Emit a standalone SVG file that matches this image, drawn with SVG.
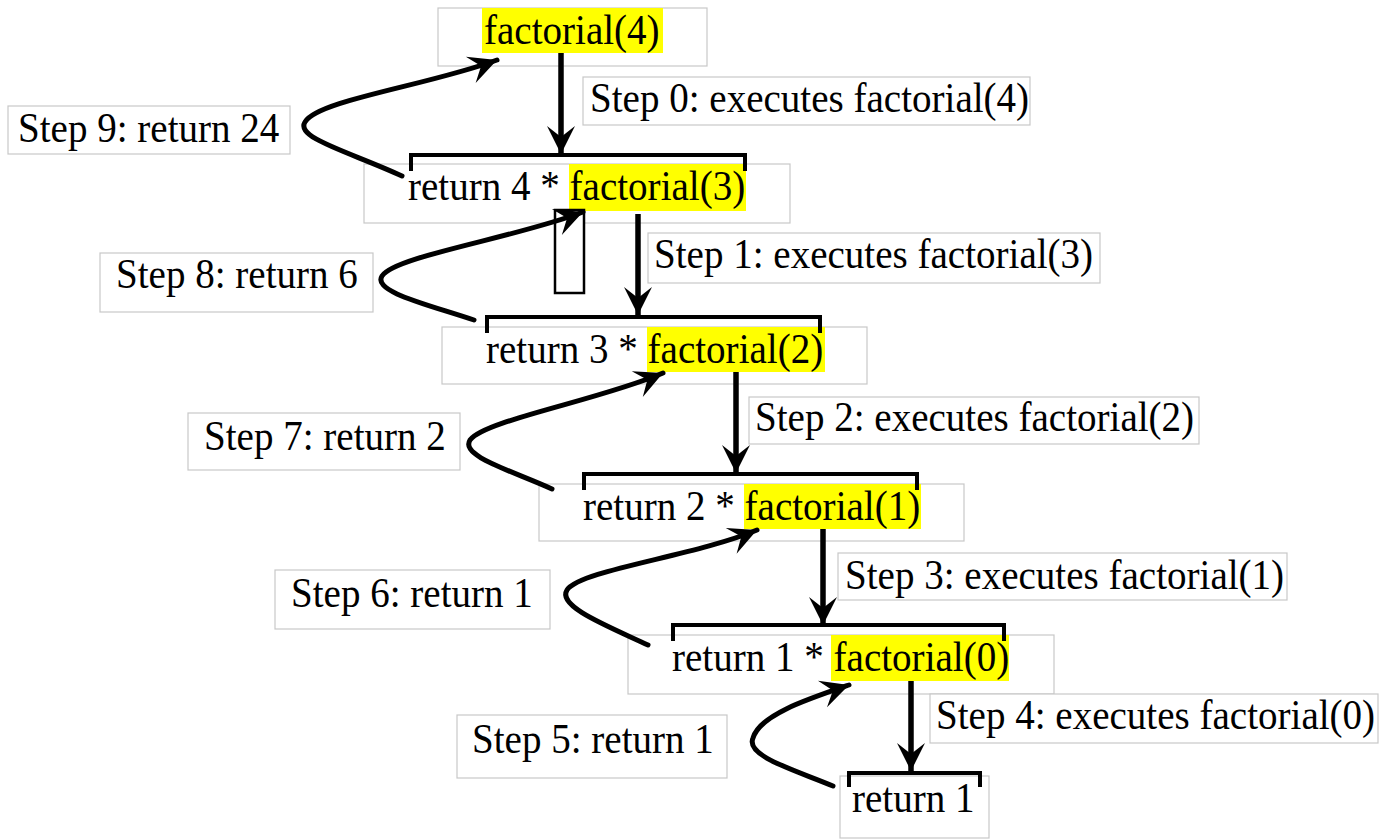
<svg xmlns="http://www.w3.org/2000/svg" width="1382" height="839" viewBox="0 0 1382 839">
<defs>
<style>
.box{fill:#fff;stroke:#c8c8c8;stroke-width:1.2}
.hl{fill:#ffff00}
.t{font-family:"Liberation Serif","Times New Roman",serif;font-size:42px;fill:#000}
.br{fill:none;stroke:#000;stroke-width:4}
.down{fill:none;stroke:#000;stroke-width:5.5}
.ret{fill:none;stroke:#000;stroke-width:5;stroke-linecap:round}
</style>
<marker id="ah" markerUnits="userSpaceOnUse" viewBox="-30 -16 32 32" refX="0" refY="0" markerWidth="32" markerHeight="32" orient="auto">
<path d="M0,0 L-28,-14 L-17,0 L-28,14 Z" fill="#000"/>
</marker>
</defs>
<rect width="1382" height="839" fill="#fff"/>

<g id="node-f4">
<rect class="box" x="438" y="8" width="269" height="58"/>
<rect class="hl" x="482" y="8" width="181" height="45"/>
<text class="t" transform="matrix(0.93,0,0,1,484,44)">factorial(4)</text>
</g>
<g id="label-step0">
<rect class="box" x="583" y="77" width="447" height="48"/>
<text class="t" transform="matrix(0.93,0,0,1,590,112)">Step 0: executes factorial(4)</text>
</g>
<g id="label-step9">
<rect class="box" x="8" y="106" width="282" height="48"/>
<text class="t" transform="matrix(0.93,0,0,1,18,142)">Step 9: return 24</text>
</g>
<g id="node-f3">
<rect class="box" x="364" y="164" width="426" height="59"/>
<rect class="hl" x="569" y="164" width="177" height="47"/>
<text class="t" transform="matrix(0.93,0,0,1,408,200)">return 4 * factorial(3)</text>
<path class="br" d="M411,171 V155 H745 V171"/>
</g>
<g id="marker-box">
<rect x="555" y="210" width="29" height="83" fill="#fff" stroke="#000" stroke-width="2.5"/>
</g>
<g id="label-step1">
<rect class="box" x="648" y="233" width="452" height="50"/>
<text class="t" transform="matrix(0.93,0,0,1,654,268)">Step 1: executes factorial(3)</text>
</g>
<g id="label-step8">
<rect class="box" x="100" y="253" width="273" height="59"/>
<text class="t" transform="matrix(0.93,0,0,1,116,288)">Step 8: return 6</text>
</g>
<g id="node-f2">
<rect class="box" x="442" y="327" width="425" height="57"/>
<rect class="hl" x="647" y="327" width="178" height="45"/>
<text class="t" transform="matrix(0.93,0,0,1,486,363)">return 3 * factorial(2)</text>
<path class="br" d="M487,333 V317 H820 V333"/>
</g>
<g id="label-step2">
<rect class="box" x="749" y="397" width="450" height="47"/>
<text class="t" transform="matrix(0.93,0,0,1,755,431)">Step 2: executes factorial(2)</text>
</g>
<g id="label-step7">
<rect class="box" x="188" y="413" width="272" height="57"/>
<text class="t" transform="matrix(0.93,0,0,1,204,450)">Step 7: return 2</text>
</g>
<g id="node-f1">
<rect class="box" x="539" y="484" width="425" height="57"/>
<rect class="hl" x="744" y="484" width="177" height="45"/>
<text class="t" transform="matrix(0.93,0,0,1,583,520)">return 2 * factorial(1)</text>
<path class="br" d="M584,490 V474 H917 V490"/>
</g>
<g id="label-step3">
<rect class="box" x="838" y="553" width="449" height="47"/>
<text class="t" transform="matrix(0.93,0,0,1,845,589)">Step 3: executes factorial(1)</text>
</g>
<g id="label-step6">
<rect class="box" x="275" y="570" width="275" height="59"/>
<text class="t" transform="matrix(0.93,0,0,1,291,607)">Step 6: return 1</text>
</g>
<g id="node-f0">
<rect class="box" x="628" y="635" width="426" height="59"/>
<rect class="hl" x="831" y="635" width="178" height="46"/>
<text class="t" transform="matrix(0.93,0,0,1,672,671)">return 1 * factorial(0)</text>
<path class="br" d="M673,641 V625 H1004 V641"/>
</g>
<g id="label-step4">
<rect class="box" x="930" y="694" width="448" height="49"/>
<text class="t" transform="matrix(0.93,0,0,1,936,729)">Step 4: executes factorial(0)</text>
</g>
<g id="label-step5">
<rect class="box" x="457" y="715" width="270" height="63"/>
<text class="t" transform="matrix(0.93,0,0,1,472,753)">Step 5: return 1</text>
</g>
<g id="node-r1">
<rect class="box" x="840" y="776" width="149" height="62"/>
<text class="t" transform="matrix(0.93,0,0,1,852,812)">return 1</text>
<path class="br" d="M849,787 V773 H980 V787"/>
</g>

<g id="connectors">
<line class="down" x1="561" y1="53" x2="561" y2="154" marker-end="url(#ah)"/>
<line class="down" x1="638" y1="214" x2="638" y2="315" marker-end="url(#ah)"/>
<line class="down" x1="736" y1="372" x2="736" y2="473" marker-end="url(#ah)"/>
<line class="down" x1="823" y1="529" x2="823" y2="625" marker-end="url(#ah)"/>
<line class="down" x1="911" y1="681" x2="911" y2="771" marker-end="url(#ah)"/>
<path class="ret" d="M402,176 C350,152 295,138 305,122 C318,100 430,85 497,60" marker-end="url(#ah)"/>
<path class="ret" d="M474,320 C430,305 372,292 382,276 C395,256 515,238 583,212" marker-end="url(#ah)"/>
<path class="ret" d="M552,489 C510,470 460,456 470,440 C485,420 600,400 663,373" marker-end="url(#ah)"/>
<path class="ret" d="M648,645 C605,625 557,606 567,590 C580,570 695,556 757,530" marker-end="url(#ah)"/>
<path class="ret" d="M833,786 C795,770 745,756 753,738 C760,715 805,700 849,685" marker-end="url(#ah)"/>
</g>
</svg>
